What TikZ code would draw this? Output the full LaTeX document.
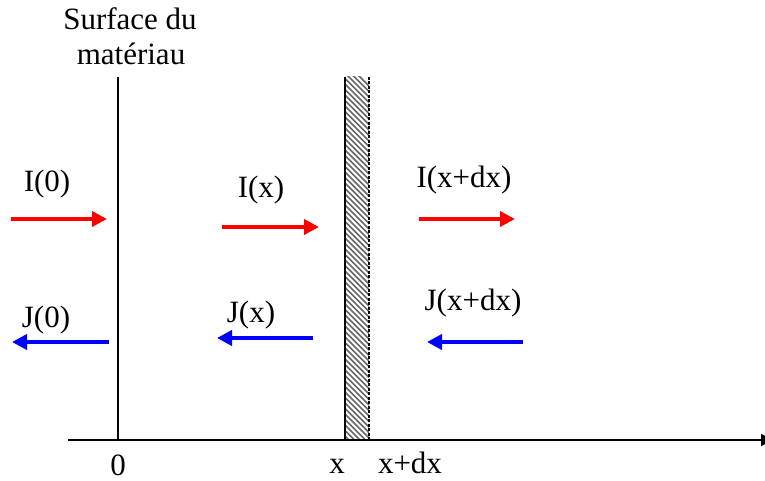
\documentclass[tikz,border=0pt]{standalone}
\usepackage{fontspec}
\setmainfont{Liberation Serif}
\usetikzlibrary{arrows.meta}
\begin{document}
\begin{tikzpicture}[x=1pt,y=-1pt,
  lbl/.style={inner sep=0pt,anchor=base,font=\fontsize{31}{35}\selectfont},
  flux/.style={line width=4.5pt,-{Triangle[length=15pt,width=15pt]}},
  iflux/.style={flux,red},
  jflux/.style={flux,blue},
  wall/.style={line width=1.8pt,black}]
\useasboundingbox (0,0) rectangle (765,481);
% hatched layer
\begin{scope}
  \clip (345,77) rectangle (369,440);
  \foreach \k in {0,5.5,...,420} {
    \draw[black!60,line width=1.6pt] (330,77+\k-30) -- (390,77+\k+30);
  }
\end{scope}
\draw[wall] (345,77) coordinate (hl1) -- (345,440) coordinate (hl2);
\draw[black,line width=1.2pt,dash pattern=on 3pt off 1.5pt] (369,77) -- (369,440);
% surface
\coordinate (s1) at (118,77);
\coordinate (s2) at (118,440);
\draw[wall] (s1) -- (s2);
% axis
\coordinate (a1) at (68,440);
\coordinate (a2) at (773,440);
\draw[line width=1.8pt,-{Triangle[length=12pt,width=12pt]}] (a1) -- (a2);
% labels
\node[lbl] (surf1) at (130,30) {Surface du};
\node[lbl] (surf2) at (131,65) {matériau};
\node[lbl] (I0) at (47,192) {I(0)};
\node[lbl] (J0) at (46,327) {J(0)};
\node[lbl] (Ix) at (261,197) {I(x)};
\node[lbl] (Jx) at (251,322) {J(x)};
\node[lbl] (Ixdx) at (464,187) {I(x+dx)};
\node[lbl] (Jxdx) at (473,310) {J(x+dx)};
\node[lbl] (z0) at (118,475) {0};
\node[lbl] (zx) at (337,473) {x};
\node[lbl] (zxdx) at (410,473) {x+dx};
% arrows
\coordinate (ia1) at (11,219);  \coordinate (ib1) at (107,219);
\coordinate (ia2) at (222,227); \coordinate (ib2) at (319,227);
\coordinate (ia3) at (419,219); \coordinate (ib3) at (515,219);
\draw[iflux] (ia1) -- (ib1);
\draw[iflux] (ia2) -- (ib2);
\draw[iflux] (ia3) -- (ib3);
\coordinate (ja1) at (109,342); \coordinate (jb1) at (12,342);
\coordinate (ja2) at (313,338); \coordinate (jb2) at (217,338);
\coordinate (ja3) at (523,342); \coordinate (jb3) at (427,342);
\draw[jflux] (ja1) -- (jb1);
\draw[jflux] (ja2) -- (jb2);
\draw[jflux] (ja3) -- (jb3);
\end{tikzpicture}
\end{document}
